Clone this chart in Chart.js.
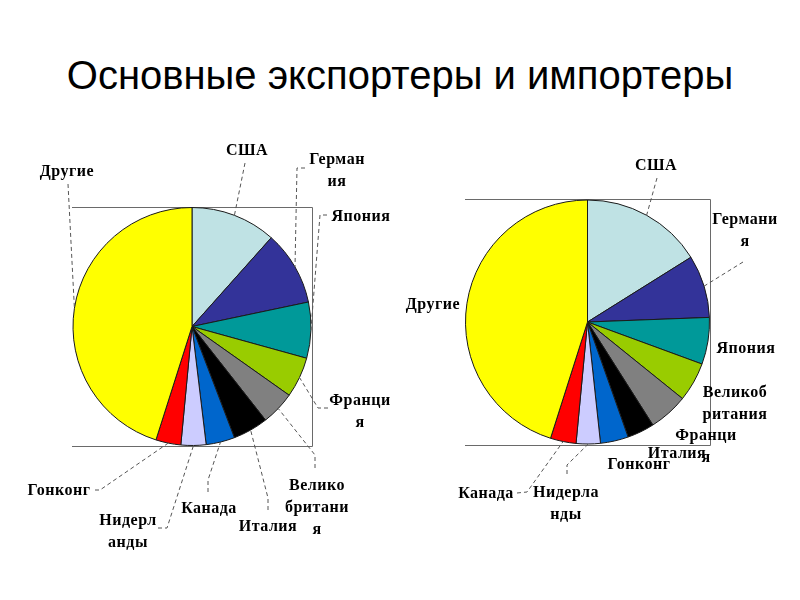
<!DOCTYPE html>
<html>
<head>
<meta charset="utf-8">
<script src="https://cdn.jsdelivr.net/npm/chart.js@4.4.1/dist/chart.umd.min.js"></script>
<style>
  html, body { margin: 0; padding: 0; background: #fff; }
  #wrap { position: relative; width: 800px; height: 600px; overflow: hidden; }
  #title { position: absolute; left: 0; top: 50px; width: 800px; text-align: center;
           font-family: "Liberation Sans", Arial, sans-serif; font-size: 40px; color: #000; line-height: 50px; }
  canvas { position: absolute; left: 0; top: 0; }
</style>
</head>
<body>
<div id="wrap">
  <div id="title">Основные экспортеры и импортеры</div>
  <canvas id="exp" width="800" height="600"></canvas>
  <canvas id="imp" width="800" height="600"></canvas>
</div>
<script>
// ---- data ----
const exportCategories = [["США"], ["Герман", "ия"], ["Япония"], ["Франци", "я"], ["Велико", "британи", "я"], ["Италия"], ["Канада"], ["Нидерл", "анды"], ["Гонконг"], ["Другие"]];
const exportShares = [11.6, 10.1, 7.6, 5.5, 4.6, 4.8, 3.9, 3.4, 3.4, 45.1];

const importCategories = [["США"], ["Германи", "я"], ["Япония"], ["Великоб", "ритания"], ["Франци", "я"], ["Италия"], ["Гонконг"], ["Нидерла", "нды"], ["Канада"], ["Другие"]];
const importShares = [16.1, 8.3, 6.2, 5.2, 5.2, 3.6, 3.7, 3.2, 3.4, 45.1];

// ---- styles / layout ----
const sliceColors = ["#BFE2E4", "#333399", "#009999", "#99CC00", "#808080", "#000000", "#0066CC", "#CCCCFF", "#FF0000", "#FFFF00"];

// label text centre and leader elbow points (leader ends at the slice edge, computed from the arc)
const exportLabelLayout = [
  { x: 247, y: 151, path: [[245, 163]] },
  { x: 337, y: 160, path: [[305, 168], [297, 168]] },
  { x: 361, y: 217, path: [[327, 215], [320, 215]] },
  { x: 360, y: 401, path: [[328, 408], [318, 408]] },
  { x: 317, y: 486, path: [[315, 468], [315, 455]] },
  { x: 268, y: 527, path: [[268, 510], [268, 498]] },
  { x: 209, y: 509, path: [[208, 492], [208, 480]] },
  { x: 128, y: 521, path: [[158, 528], [167, 528]] },
  { x: 59,  y: 491, path: [[95, 490], [100, 490]] },
  { x: 67,  y: 172, path: [[68, 184]] }
];
const importLabelLayout = [
  { x: 656, y: 166, path: [[657, 178]] },
  { x: 745, y: 220, path: [[743, 262]] },
  { x: 746, y: 349, path: null },
  { x: 735, y: 393, path: null },
  { x: 706, y: 436, path: null },
  { x: 677, y: 454, path: null },
  { x: 639, y: 465, path: null },
  { x: 566, y: 493, path: [[567, 474], [567, 465]] },
  { x: 486, y: 494, path: [[517, 493], [527, 492]] },
  { x: 433, y: 305, path: null }
];

const labelFont = 'bold 16px "Liberation Serif", "Times New Roman", serif';
const lineHeight = 22;

const pieDecor = {
  id: 'pieDecor',
  beforeDatasetsDraw(chart) {
    const ctx = chart.ctx, a = chart.chartArea;
    ctx.save();
    ctx.strokeStyle = '#6a6a6a';
    ctx.lineWidth = 1;
    ctx.beginPath();
    ctx.moveTo(a.left, a.top + 0.5);
    ctx.lineTo(a.right + 0.5, a.top + 0.5);
    ctx.lineTo(a.right + 0.5, a.bottom + 0.5);
    ctx.lineTo(a.left, a.bottom + 0.5);
    ctx.stroke();
    ctx.restore();
  },
  afterDraw(chart, args, opts) {
    const ctx = chart.ctx;
    const meta = chart.getDatasetMeta(0);
    const layout = opts.layout;
    const labels = chart.data.labels;
    ctx.save();
    meta.data.forEach((arc, i) => {
      const p = arc.getProps(['x', 'y', 'startAngle', 'endAngle', 'outerRadius'], true);
      const mid = (p.startAngle + p.endAngle) / 2;
      const ex = p.x + Math.cos(mid) * p.outerRadius;
      const ey = p.y + Math.sin(mid) * p.outerRadius;
      const L = layout[i];
      if (L.path) {
        ctx.strokeStyle = '#555';
        ctx.lineWidth = 1;
        ctx.setLineDash([4, 3]);
        ctx.beginPath();
        ctx.moveTo(L.path[0][0], L.path[0][1]);
        for (let k = 1; k < L.path.length; k++) ctx.lineTo(L.path[k][0], L.path[k][1]);
        ctx.lineTo(ex, ey);
        ctx.stroke();
      }
    });
    ctx.setLineDash([]);
    ctx.fillStyle = '#000';
    ctx.font = labelFont;
    if ('letterSpacing' in ctx) ctx.letterSpacing = '0.5px';
    ctx.textAlign = 'center';
    ctx.textBaseline = 'middle';
    labels.forEach((lines, i) => {
      const L = layout[i];
      lines.forEach((t, k) => ctx.fillText(t, L.x, L.y + k * lineHeight));
    });
    ctx.restore();
  }
};

function makePie(id, categories, values, layout, padding) {
  return new Chart(document.getElementById(id), {
    type: 'pie',
    data: {
      labels: categories,
      datasets: [{
        data: values,
        backgroundColor: sliceColors,
        borderColor: '#1a1a1a',
        borderWidth: 1
      }]
    },
    options: {
      responsive: false,
      animation: false,
      devicePixelRatio: 1,
      events: [],
      layout: { padding: padding },
      plugins: {
        legend: { display: false },
        tooltip: { enabled: false },
        title: { display: false },
        pieDecor: { layout: layout }
      }
    },
    plugins: [pieDecor]
  });
}

makePie('exp', exportCategories, exportShares, exportLabelLayout, { left: 72, top: 207, right: 488, bottom: 154 });
makePie('imp', importCategories, importShares, importLabelLayout, { left: 465, top: 199, right: 90, bottom: 155 });
</script>
</body>
</html>
